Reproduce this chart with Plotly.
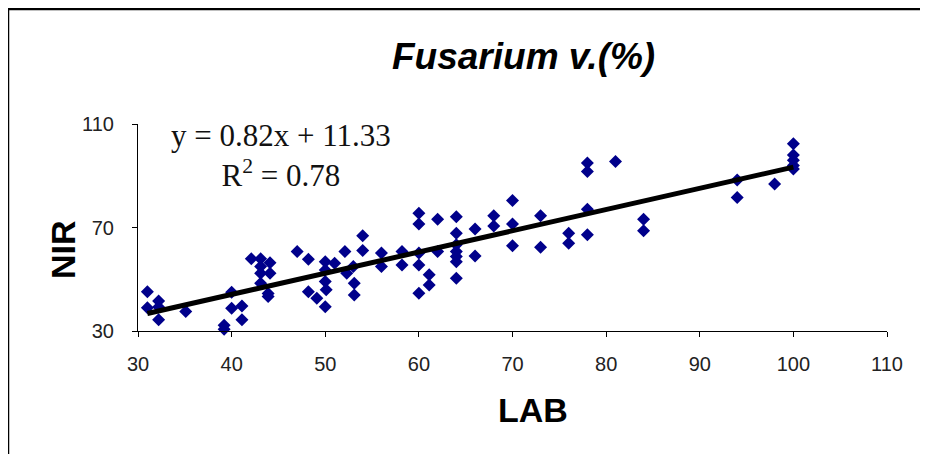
import plotly.graph_objects as go

# Data
lab = [31, 31, 32.2, 32.2, 32.2, 35.1, 39.2, 39.2, 40, 40, 41.1, 41.1,
       42.1, 43.1, 43.1, 44.1, 44.1, 43.1, 43.1, 43.9, 43.9,
       47, 48.2, 48.2, 49.1, 50, 50, 50, 50.1, 50, 51, 52.1, 52.3, 53, 53.1, 53.1,
       54, 54, 56, 56, 58.2, 58.2,
       60, 60, 60, 60, 60, 61.1, 61.1, 62, 62, 64, 64, 64, 64, 64, 64, 64,
       66, 66, 68, 68, 70, 70, 70,
       73, 73, 76, 76, 78, 78, 78, 78, 81, 84, 84,
       94, 94, 98, 100, 100, 100, 100, 100]
nir = [45.2, 39.0, 41.6, 39.3, 34.3, 37.5, 30.7, 32.2, 45.0, 38.8, 39.7, 34.3,
       57.9, 57.9, 54.9, 56.4, 52.3, 52.3, 48.5, 44.5, 43.3,
       60.7, 57.7, 45.2, 42.7, 56.8, 53.6, 49.1, 45.9, 39.4, 56.2, 60.7, 52.3, 54.9, 48.5, 43.9,
       66.8, 61.1, 60.1, 54.9, 60.7, 55.5,
       75.5, 71.4, 60.1, 55.5, 44.6, 51.7, 47.8, 73.2, 60.7, 74.2, 67.8, 63.3, 60.7, 58.8, 56.8, 50.4,
       69.4, 59.0, 74.5, 70.6, 80.4, 71.4, 62.9,
       74.5, 62.4, 67.8, 63.9, 94.9, 91.6, 77.1, 67.2, 95.5, 73.2, 68.7,
       88.4, 81.6, 86.8, 102.4, 98.0, 96.0, 94.0, 92.6]

slope = 0.82
intercept = 11.33
r2 = 0.78
fit_x = [min(lab), max(lab)]
fit_y = [slope * v + intercept for v in fit_x]

x_ticks = [30, 40, 50, 60, 70, 80, 90, 100, 110]
y_ticks = [30, 70, 110]

fig = go.Figure()
fig.add_trace(go.Scatter(
    x=lab, y=nir, mode="markers",
    marker=dict(symbol="diamond", size=10, color="#00008B", line=dict(width=0)),
    showlegend=False, cliponaxis=False))
fig.add_trace(go.Scatter(
    x=fit_x, y=fit_y, mode="lines",
    line=dict(color="black", width=5), showlegend=False))

# page offset (body margin) of the rendered figure
OFF = 8
W, H = 928, 454
# desired plot-area edges in page pixels
PL, PR, PT, PB = 138, 887, 124, 331
L = PL - OFF
T = PT - OFF
R = W - (PR - OFF)
B = H - (PB - OFF)
pw, ph = W - L - R, H - T - B

def px(xp):
    return (xp - OFF - L) / pw

def py(yp):
    return (H - B - (yp - OFF)) / ph

tick_font = dict(size=20, family="Liberation Sans, Arial", color="#222")

fig.update_layout(
    width=W, height=H,
    margin=dict(l=L, r=R, t=T, b=B, pad=0),
    paper_bgcolor="white", plot_bgcolor="white",
    font=dict(family="Liberation Sans, Arial", color="#222"),
    xaxis=dict(range=[30, 110], tickvals=x_ticks, ticktext=[str(v) for v in x_ticks],
               showgrid=False, zeroline=False, showline=True, linecolor="black",
               linewidth=1, ticks="outside", ticklen=5, tickcolor="black",
               ticklabelstandoff=10, tickfont=tick_font),
    yaxis=dict(range=[30, 110], tickvals=y_ticks, ticktext=[str(v) for v in y_ticks],
               showgrid=False, zeroline=False, showline=True, linecolor="black",
               linewidth=1, ticks="outside", ticklen=5, tickcolor="black",
               ticklabelstandoff=14, tickfont=tick_font),
)

# outer frame (only left and top edges visible in the crop)
fig.add_shape(type="rect", xref="paper", yref="paper",
              x0=px(8), x1=px(W + 40), y0=py(H + 40), y1=py(9),
              line=dict(color="black", width=2.5), layer="above")

fig.add_annotation(xref="paper", yref="paper", x=px(523), y=py(57),
                   text="<b><i>Fusarium v.(%)</i></b>", showarrow=False,
                   font=dict(size=37, family="Liberation Sans, Arial", color="black"),
                   xanchor="center", yanchor="middle")
fig.add_annotation(xref="paper", yref="paper", x=px(63), y=py(250),
                   text="<b>NIR</b>", showarrow=False, textangle=-90,
                   font=dict(size=34, family="Liberation Sans, Arial", color="black"),
                   xanchor="center", yanchor="middle")
fig.add_annotation(xref="paper", yref="paper", x=px(533), y=py(410),
                   text="<b>LAB</b>", showarrow=False,
                   font=dict(size=34, family="Liberation Sans, Arial", color="black"),
                   xanchor="center", yanchor="middle")
fig.add_annotation(xref="paper", yref="paper", x=px(281), y=py(155),
                   text=f"y = {slope:.2f}x + {intercept:.2f}<br>R<sup>2</sup> = {r2:.2f}",
                   showarrow=False, align="center",
                   font=dict(size=31, family="Liberation Serif, Times New Roman", color="#111"),
                   xanchor="center", yanchor="middle")

fig.write_html("out.html")
